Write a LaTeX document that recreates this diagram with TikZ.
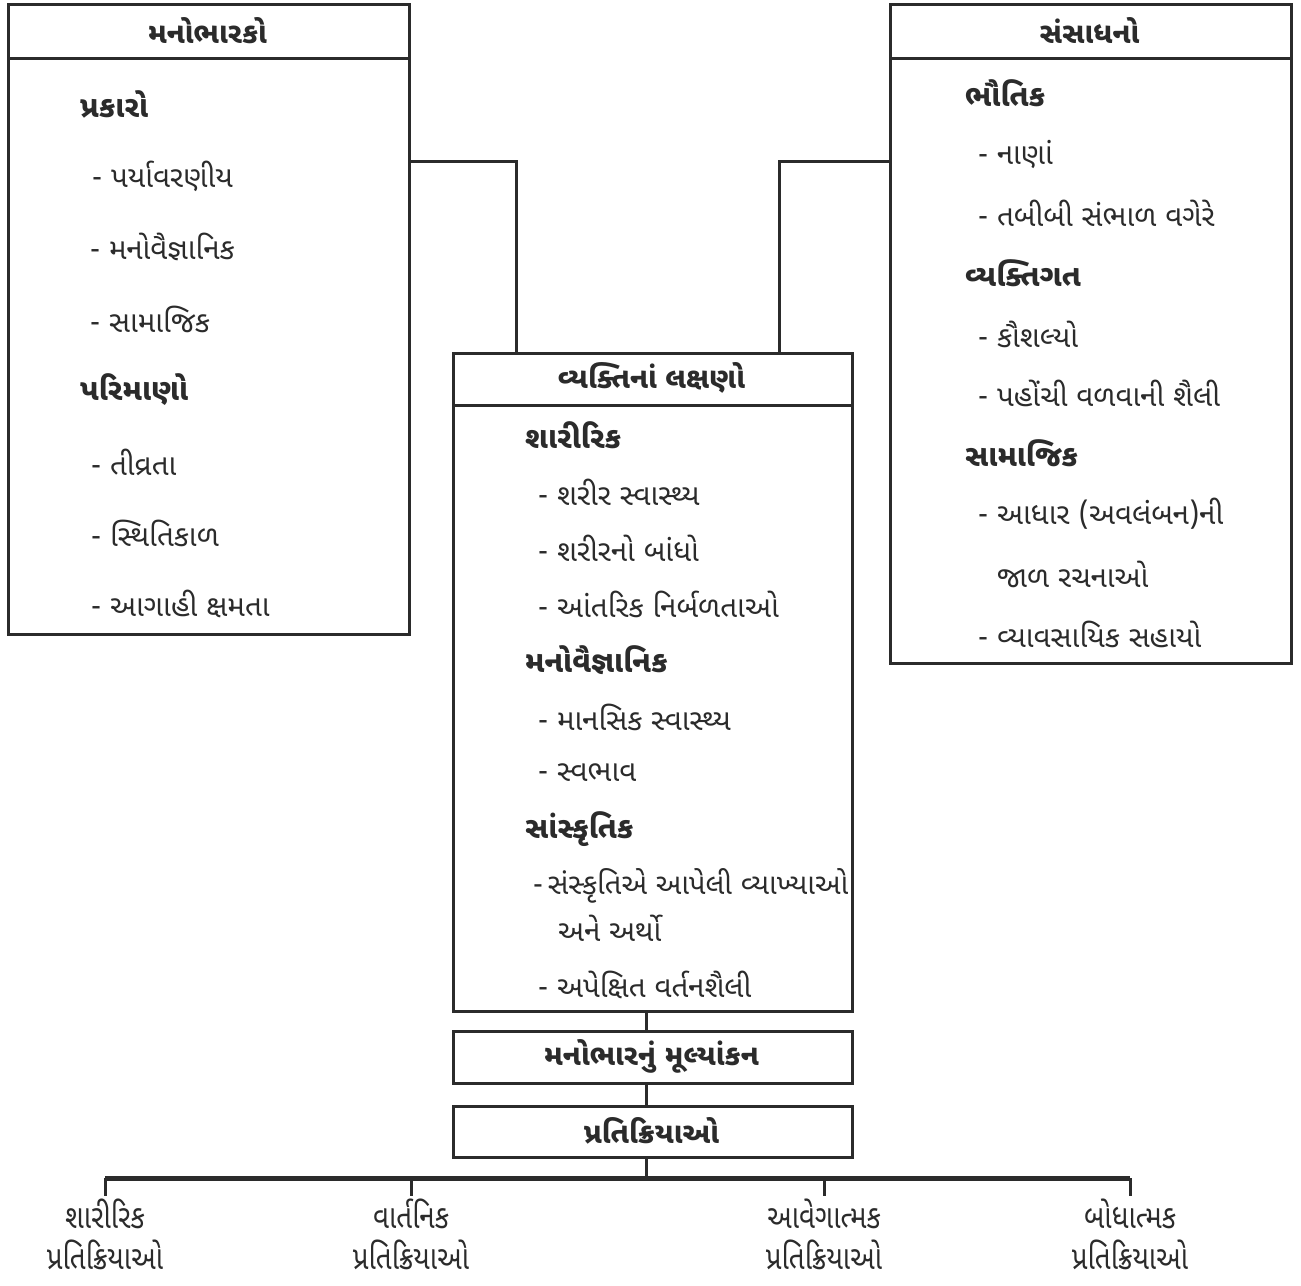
\documentclass[tikz,border=0pt]{standalone}
\usepackage{fontspec}
\newfontfamily\guj[Script=Gujarati]{Noto Sans Gujarati UI}
\newfontfamily\gujcond[Script=Gujarati,FakeStretch=0.84]{Noto Sans Gujarati UI}
\definecolor{ink}{HTML}{2B2B2B}
\begin{document}
\begin{tikzpicture}[x=1pt,y=-1pt,
  box/.style={draw=ink,line width=3pt,inner sep=0pt,anchor=north west},
  ttl/.style={font=\guj\fontsize{29}{34}\selectfont\bfseries,text=ink,inner sep=0pt},
  head/.style={font=\guj\fontsize{30}{36}\selectfont\bfseries,text=ink,inner sep=0pt,anchor=west},
  item/.style={font=\guj\fontsize{29.5}{36}\selectfont,text=ink,inner sep=0pt,anchor=west},
  leaf/.style={font=\gujcond\fontsize{33}{41}\selectfont,text=ink,align=center,inner sep=0pt,anchor=north},
  conn/.style={draw=ink,line width=3pt},
  barline/.style={draw=ink,line width=5pt}]
\useasboundingbox (0,0) rectangle (1301,1285);
\fill[white] (0,0) rectangle (1301,1285);
% boxes
\node[box,minimum width=401pt,minimum height=630pt] (L) at (7,3) {};
\node[box,minimum width=401pt,minimum height=659pt] (R) at (889,3) {};
\node[box,minimum width=399pt,minimum height=658pt] (M) at (452,352) {};
\node[box,minimum width=399pt,minimum height=52pt] (E) at (452,1030) {};
\node[box,minimum width=399pt,minimum height=51pt] (P) at (452,1105) {};
\draw[conn] ([yshift=-55pt]L.north west) -- ([yshift=-55pt]L.north east);
\draw[conn] ([yshift=-55pt]R.north west) -- ([yshift=-55pt]R.north east);
\draw[conn] ([yshift=-53pt]M.north west) -- ([yshift=-53pt]M.north east);
% titles
\node[ttl] (Lt) at (207.5,31) {મનોભારકો};
\node[ttl] (Rt) at (1089.5,31) {સંસાધનો};
\node[ttl] (Mt) at (651.5,378) {વ્યક્તિનાં લક્ષણો};
\node[ttl] (Et) at (651.5,1056) {મનોભારનું મૂલ્યાંકન};
\node[ttl] (Pt) at (651.5,1131) {પ્રતિક્રિયાઓ};
% left contents
\node[head] (l1) at (80,104) {પ્રકારો};
\node[item] (l2) at (92,176) {- પર્યાવરણીય};
\node[item] (l3) at (90,247) {- મનોવૈજ્ઞાનિક};
\node[item] (l4) at (90,319) {- સામાજિક};
\node[head] (l5) at (80,390) {પરિમાણો};
\node[item] (l6) at (91,462) {- તીવ્રતા};
\node[item] (l7) at (91,533) {- સ્થિતિકાળ};
\node[item] (l8) at (91,604) {- આગાહી ક્ષમતા};
% right contents
\node[head] (r1) at (965,93) {ભૌતિક};
\node[item] (r2) at (978,154) {- નાણાં};
\node[item] (r3) at (978,213) {- તબીબી સંભાળ વગેરે};
\node[head] (r4) at (965,273) {વ્યક્તિગત};
\node[item] (r5) at (978,334) {- કૌશલ્યો};
\node[item] (r6) at (978,393) {- પહોંચી વળવાની શૈલી};
\node[head] (r7) at (965,453) {સામાજિક};
\node[item] (r8) at (978,514) {- આધાર (અવલંબન)ની};
\node[item] (r9) at (997,574) {જાળ રચનાઓ};
\node[item] (r10) at (978,634) {- વ્યાવસાયિક સહાયો};
% middle contents
\node[head] (m1) at (525,435) {શારીરિક};
\node[item] (m2) at (538,492) {- શરીર સ્વાસ્થ્ય};
\node[item] (m3) at (538,548) {- શરીરનો બાંધો};
\node[item] (m4) at (538,604) {- આંતરિક નિર્બળતાઓ};
\node[head] (m5) at (525,660) {મનોવૈજ્ઞાનિક};
\node[item] (m6) at (538,717) {- માનસિક સ્વાસ્થ્ય};
\node[item] (m7) at (538,773) {- સ્વભાવ};
\node[head] (m8) at (525,829) {સાંસ્કૃતિક};
\node[item,font=\guj\fontsize{29}{36}\selectfont] (m9) at (533,886) {-\,સંસ્કૃતિએ આપેલી વ્યાખ્યાઓ};
\node[item] (m10) at (558,928) {અને અર્થો};
\node[item] (m11) at (538,985) {- અપેક્ષિત વર્તનશૈલી};
% bottom leaves
\node[leaf] (b1) at (105,1199) {શારીરિક\\પ્રતિક્રિયાઓ};
\node[leaf] (b2) at (411,1199) {વાર્તનિક\\પ્રતિક્રિયાઓ};
\node[leaf] (b3) at (824,1199) {આવેગાત્મક\\પ્રતિક્રિયાઓ};
\node[leaf] (b4) at (1130,1199) {બોધાત્મક\\પ્રતિક્રિયાઓ};
% connectors
\coordinate (jl) at (516,161);
\coordinate (jr) at (779,161);
\draw[conn] (L.east |- jl) -- (jl) -- (M.north -| jl);
\draw[conn] (R.west |- jr) -- (jr) -- (M.north -| jr);
\coordinate (cx) at (646,0);
\draw[conn] (M.south -| cx) -- (E.north -| cx);
\draw[conn] (E.south -| cx) -- (P.north -| cx);
\coordinate (bar) at (646,1178);
\draw[conn] (P.south -| cx) -- (bar);
\draw[barline] (b1 |- bar) -- (b4 |- bar);
\draw[conn] (b1 |- bar) -- ([yshift=3pt]b1.north);
\draw[conn] (b2 |- bar) -- ([yshift=3pt]b2.north);
\draw[conn] (b3 |- bar) -- ([yshift=3pt]b3.north);
\draw[conn] (b4 |- bar) -- ([yshift=3pt]b4.north);
\end{tikzpicture}
\end{document}
